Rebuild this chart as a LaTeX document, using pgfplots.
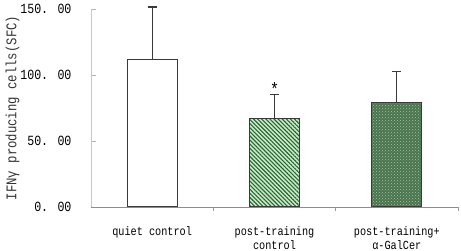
\documentclass[border=0pt]{standalone}
\usepackage{fontspec}
\usepackage{pgfplots}
\pgfplotsset{compat=1.18}
\usetikzlibrary{patterns,patterns.meta}
\newfontfamily\cfont[FakeStretch=0.83]{Liberation Mono}
\definecolor{bordc}{HTML}{3A3A3A}
\definecolor{lgreen}{HTML}{C8ECC8}
\definecolor{dgreen}{HTML}{2A6434}
\definecolor{mgreen}{HTML}{4A744D}
\definecolor{mlight}{HTML}{A4C8A4}
\begin{document}
\begin{tikzpicture}
\begin{axis}[
  scale only axis,
  width=367pt, height=198pt,
  xmin=-0.5, xmax=2.5, ymin=0, ymax=150,
  axis lines*=left,
  x axis line style={color=black!45, line width=0.8pt},
  y axis line style={color=black!22, line width=0.8pt},
  ytick={0,50,100,150},
  yticklabels={0. 00,50. 00,100. 00,150. 00},
  ytick style={color=black!30, line width=0.8pt},
  tick align=inside,
  major tick length=5pt,
  minor tick length=4pt,
  xtick={0,1,2},
  xticklabels={quiet control,post-training\\control,post-training+\\α-GalCer},
  major x tick style={draw=none},
  minor xtick={0.5,1.5,2.5},
  minor x tick style={color=black!40, line width=0.6pt},
  yticklabel style={font=\fontsize{14}{16}\selectfont\cfont, xshift=-16pt},
  xticklabel style={font=\fontsize{12.3}{14.5}\selectfont\cfont, align=center, yshift=-11pt},
  ylabel={IFNγ producing cells(SFC)},
  ylabel style={font=\fontsize{14.8}{16}\selectfont\cfont, color=black!80, yshift=-6pt},
  ybar, bar width=50pt, bar shift=0pt,
  error bars/y dir=plus, error bars/y explicit,
  error bars/error bar style={line width=1.1pt, color=bordc},
  error bars/error mark options={rotate=90, mark size=4.5pt, line width=1.1pt, color=bordc},
  clip=false,
]
\addplot[draw=bordc, line width=1pt, fill=white] coordinates {(0,111.4) +- (0,40.1)};
\addplot[draw=bordc, line width=1pt, fill=lgreen,
  postaction={pattern={Lines[angle=-45, distance=2.9pt, line width=1.1pt]}, pattern color=dgreen}]
  coordinates {(1,66.7) +- (0,18.7)};
\addplot[draw=bordc, line width=1pt, fill=mgreen,
  postaction={pattern=crosshatch dots, pattern color=mlight}]
  coordinates {(2,79.0) +- (0,23.5)};
\node[anchor=south, inner sep=0pt, font=\fontsize{18}{18}\selectfont\cfont] at (axis cs:1,84.5) {*};
\end{axis}
\pgfresetboundingbox
\path (-91pt,-44pt) rectangle (370pt,207pt);
\end{tikzpicture}
\end{document}
